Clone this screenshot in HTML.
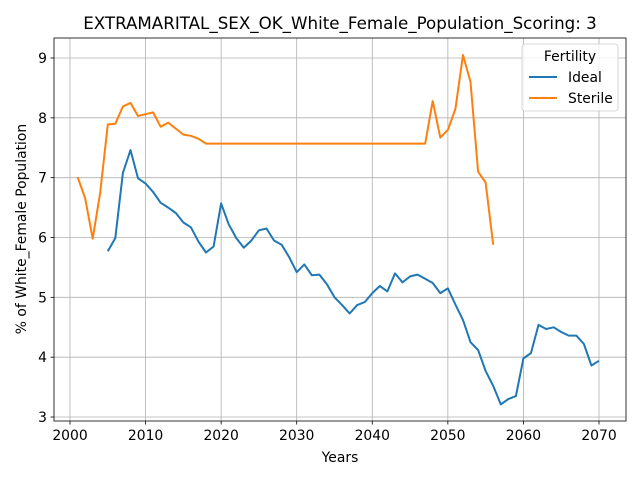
<!DOCTYPE html>
<html><head><meta charset="utf-8"><style>
body{margin:0;background:#fff;font-family:"Liberation Sans","DejaVu Sans",sans-serif}
svg text{font-family:"DejaVu Sans","Liberation Sans",sans-serif}
</style></head><body>
<svg id="chart" width="640" height="480" xmlns="http://www.w3.org/2000/svg">
<rect width="640" height="480" fill="#fff"/>
<g id="grid"></g><g id="series"></g><g id="axes"></g>
</svg>
<script>
const idealYears=[];for(let y=2005;y<=2070;y++)idealYears.push(y);
const idealValues=[5.77,5.99,7.08,7.46,6.99,6.9,6.76,6.58,6.5,6.41,6.25,6.17,5.93,5.75,5.85,6.57,6.22,5.99,5.83,5.95,6.12,6.15,5.95,5.88,5.67,5.42,5.55,5.37,5.38,5.22,5.0,4.87,4.73,4.87,4.92,5.07,5.19,5.1,5.4,5.25,5.35,5.38,5.31,5.24,5.07,5.15,4.88,4.62,4.25,4.12,3.77,3.52,3.21,3.3,3.35,3.98,4.07,4.54,4.47,4.5,4.42,4.36,4.36,4.22,3.86,3.94];
const sterileYears=[];for(let y=2001;y<=2056;y++)sterileYears.push(y);
const sterileValues=[7.01,6.66,5.98,6.75,7.89,7.9,8.19,8.25,8.03,8.06,8.09,7.85,7.92,7.82,7.72,7.7,7.65,7.57,7.57,7.57,7.57,7.57,7.57,7.57,7.57,7.57,7.57,7.57,7.57,7.57,7.57,7.57,7.57,7.57,7.57,7.57,7.57,7.57,7.57,7.57,7.57,7.57,7.57,7.57,7.57,7.57,7.57,8.28,7.67,7.8,8.15,9.05,8.6,7.1,6.92,5.88];
const xTicks=[2000,2010,2020,2030,2040,2050,2060,2070];
const yTicks=[3,4,5,6,7,8,9];
const L=54,R=626,T=38,B=421;
const xs=v=>70+(v-2000)*(599-70)/70;
const ys=v=>417-(v-3)*(417-58)/6;
const NS="http://www.w3.org/2000/svg";
function mk(tag,attrs,parent,text){const e=document.createElementNS(NS,tag);for(const k in attrs)e.setAttribute(k,attrs[k]);if(text!=null)e.textContent=text;parent.appendChild(e);return e;}
const grid=document.getElementById('grid'),ax=document.getElementById('axes'),ser=document.getElementById('series');
const FS=13.9;
xTicks.forEach(t=>{const x=xs(t);
 const g=mk('line',{x1:x,x2:x,y1:T,y2:B,stroke:'#b0b0b0','stroke-width':0.8},grid);
 
 
 mk('line',{x1:x,x2:x,y1:B,y2:B+3.5,stroke:'#000','stroke-width':0.8},ax);
 const tx=mk('text',{x:x,y:B+19,'text-anchor':'middle','font-size':FS},ax,t);
 
 
});
yTicks.forEach(t=>{const y=ys(t);
 const g=mk('line',{x1:L,x2:R,y1:y,y2:y,stroke:'#b0b0b0','stroke-width':0.8},grid);
 
 
 mk('line',{x1:L-3.5,x2:L,y1:y,y2:y,stroke:'#000','stroke-width':0.8},ax);
 const tx=mk('text',{x:L-7,y:y+5,'text-anchor':'end','font-size':FS},ax,t);
 
 
});
function line(xsArr,vals,color,name){const d=vals.map((v,i)=>(i?'L':'M')+xs(xsArr[i]).toFixed(1)+','+ys(v).toFixed(1)).join('');
 const p=mk('path',{d:d,fill:'none',stroke:color,'stroke-width':2,'stroke-linejoin':'round'},ser);
 
 }
line(idealYears,idealValues,'#1f77b4','ideal-line');
line(sterileYears,sterileValues,'#ff7f0e','sterile-line');
const fr=mk('rect',{x:L,y:T,width:R-L,height:B-T,fill:'none',stroke:'#000','stroke-width':0.8},ax);


const ti=mk('text',{x:340,y:29,'text-anchor':'middle','font-size':16.7},ax,'EXTRAMARITAL_SEX_OK_White_Female_Population_Scoring: 3');


const xl=mk('text',{x:340,y:462,'text-anchor':'middle','font-size':FS},ax,'Years');


const yl=mk('text',{x:0,y:0,'text-anchor':'middle','font-size':FS,transform:'translate(26,229) rotate(-90)'},ax,'% of White_Female Population');


const lg=mk('g',{},ax);


mk('rect',{x:522,y:44,width:96,height:67,rx:3,fill:'#fff','fill-opacity':0.8,stroke:'#ccc','stroke-width':0.8},lg);
mk('text',{x:570,y:61,'text-anchor':'middle','font-size':FS},lg,'Fertility');
[['Ideal','#1f77b4',82],['Sterile','#ff7f0e',103]].forEach(([n,c,y])=>{
 const e=mk('g',{},lg);
 
 
 mk('line',{x1:529,x2:557,y1:y-5,y2:y-5,stroke:c,'stroke-width':2},e);
 mk('text',{x:568,y:y,'font-size':FS},e,n);
});
</script>
</body></html>
